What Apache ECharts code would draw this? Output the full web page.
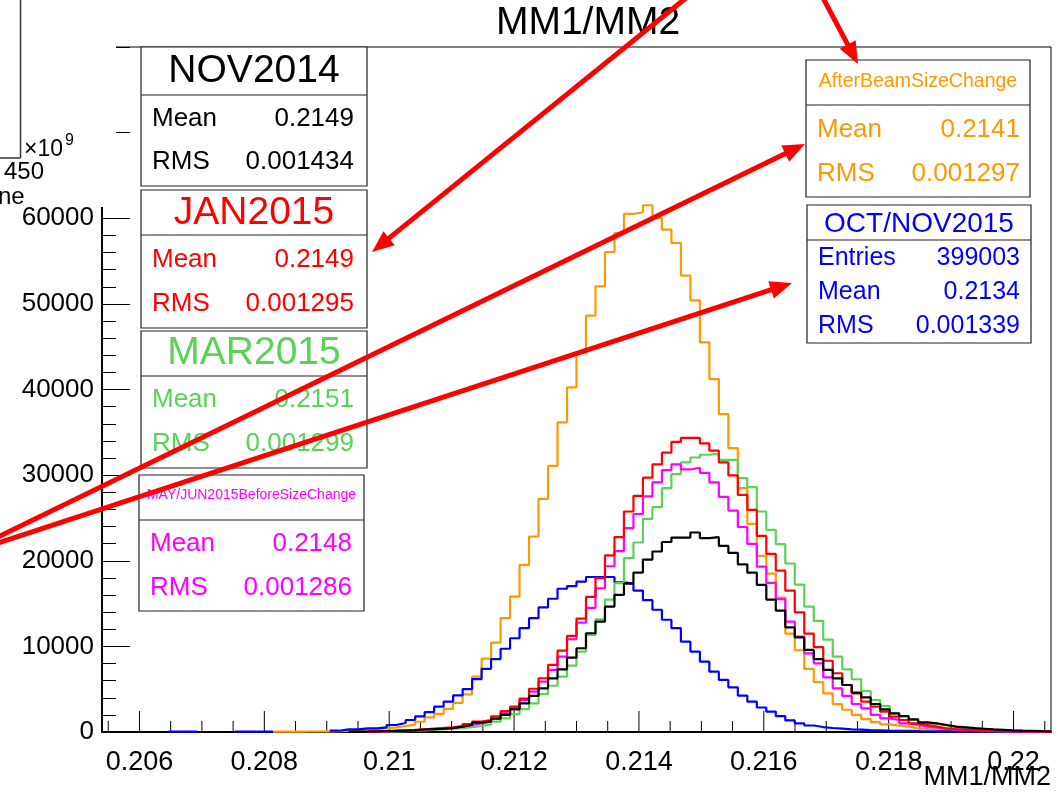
<!DOCTYPE html>
<html><head><meta charset="utf-8">
<script src="https://cdn.jsdelivr.net/npm/echarts@6/dist/echarts.min.js"></script>
<style>html,body{margin:0;padding:0;background:#fff}#c{width:1058px;height:792px}</style>
</head><body><div id="c"></div>
<script>
// ---------------- data ----------------
const BIN_LOW = 0.2054, BIN_HIGH = 0.2206, N_BINS = 100;

const xMajorTicks = [0.206, 0.208, 0.21, 0.212, 0.214, 0.216, 0.218, 0.22];
const xTickLabels = ['0.206', '0.208', '0.21', '0.212', '0.214', '0.216', '0.218', '0.22'];
const xMinorTicks = [0.2055, 0.2065, 0.207, 0.2075, 0.2085, 0.209, 0.2095, 0.2105, 0.211, 0.2115,
  0.2125, 0.213, 0.2135, 0.2145, 0.215, 0.2155, 0.2165, 0.217, 0.2175, 0.2185, 0.219, 0.2195, 0.2205];

const nov2014 = [
  null,null,null,null,null,null,null,null,null,null,
  null,null,null,null,null,null,null,null,null,null,
  null,null,null,null,null,null,50,60,80,100,
  120,150,200,300,330,380,450,620,820,1090,
  1250,1550,1990,2650,3350,4210,5100,6270,7320,8690,
  9780,11530,12900,14650,16010,17340,18620,20140,21080,22190,
  22710,22710,23300,22640,22750,21740,20920,19580,18620,17180,
  15470,14180,12220,11050,9580,8520,7250,6270,5490,4600,
  4050,3270,2650,2180,1870,1480,1130,1010,820,620,
  550,450,380,300,250,200,160,130,100,80];

const jan2015 = [
  null,null,null,null,null,null,null,null,null,null,
  null,null,null,null,null,null,null,null,null,null,
  null,null,null,null,null,null,null,null,60,100,
  150,200,250,320,400,480,550,700,935,1210,
  1400,1830,2430,2960,3900,5050,6280,7830,9510,11220,
  13250,15780,17960,20630,22770,25750,27580,29700,31250,32630,
  33880,34360,34360,33700,32860,31500,29980,27700,25950,22910,
  20800,18840,16500,13960,11490,9910,8320,6860,5490,4520,
  3540,2960,2380,1790,1400,1010,820,620,430,350,
  280,230,180,150,120,100,80,70,60,50];

const mar2015 = [
  null,null,null,null,null,null,null,null,null,null,
  null,null,null,null,null,null,null,null,null,null,
  null,null,null,null,null,null,null,null,null,50,
  80,100,150,200,250,300,380,450,560,700,
  880,1210,1600,2080,2670,3350,4420,5400,6470,7750,
  9390,11340,13150,15470,17380,20300,22130,24900,26260,28480,
  30120,31480,32060,32380,32490,31790,31790,29650,28600,25750,
  23610,21930,19680,17220,14650,12970,10790,8800,7320,6160,
  4790,3740,3040,2180,1790,1400,1010,940,780,620,
  500,400,320,250,200,160,120,100,80,60];

const mayJun2015 = [
  null,null,null,null,null,null,null,null,null,null,
  null,null,null,null,null,null,null,null,null,null,
  null,null,null,null,null,null,null,null,50,80,
  120,160,200,260,330,400,480,620,820,1000,
  1210,1600,2180,2770,3740,4710,5880,7250,8800,10830,
  12780,14500,16790,19360,21120,23800,25460,27510,29160,30580,
  31250,30660,30860,30270,29160,27470,25850,23940,21970,19320,
  17410,15510,12900,11140,9190,8020,6370,5100,4210,3270,
  2770,1990,1600,1400,1010,820,620,510,390,300,
  240,190,150,120,100,80,60,50,40,30];

const afterBeam = [
  null,null,null,null,null,null,null,null,null,null,
  null,null,null,null,null,null,null,null,40,40,
  50,60,60,80,100,150,200,310,400,430,
  530,680,860,1200,1700,2120,2700,3400,4400,6470,
  8560,10440,13290,15820,19520,22830,27230,31090,36150,40250,
  44260,48620,52050,56060,58280,60500,60700,61520,60040,58670,
  57110,53300,50410,45510,41220,37130,33150,28480,24310,20570,
  18500,15700,11500,9550,7380,5830,4500,3250,2600,2000,
  1500,1150,900,740,620,430,350,280,220,170,
  130,100,80,60,50,40,30,30,20,20];

const octNov2015 = [
  null,null,null,null,null,null,null,40,40,40,
  null,null,null,null,40,40,40,40,null,null,
  null,null,null,null,150,310,310,430,430,545,
  820,1050,1400,1830,2320,2960,3550,4270,5000,6170,
  7380,8520,9720,10950,12120,13290,14550,15560,16730,17040,
  17570,18100,18100,18100,17470,17340,16520,15390,14280,13110,
  12120,10560,9390,8220,7050,6080,5220,4250,3550,2860,
  2380,1850,1350,1010,760,580,470,390,310,280,
  230,200,160,140,120,100,90,80,70,60,
  50,40,40,40,40,40,40,40,40,null];

const statTitles = ['NOV2014', 'JAN2015', 'MAR2015', 'MAY/JUN2015BeforeSizeChange', 'AfterBeamSizeChange', 'OCT/NOV2015'];
const statLabels = [['Mean','RMS'], ['Mean','RMS'], ['Mean','RMS'], ['Mean','RMS'], ['Mean','RMS'], ['Entries','Mean','RMS']];
const statValues = [['0.2149','0.001434'], ['0.2149','0.001295'], ['0.2151','0.001299'], ['0.2148','0.001286'], ['0.2141','0.001297'], ['399003','0.2134','0.001339']];

const chartTitle = 'MM1/MM2';
const xAxisTitle = 'MM1/MM2';

// ---------------- styles / layout ----------------
const COLORS = {black:'#000000', red:'#ff0000', green:'#59d354', magenta:'#ff00ff', orange:'#ff9900', blue:'#0000ff'};
const FONT = '"Liberation Sans", Arial, Helvetica, sans-serif';

function histPoints(vals) {
  const w = (BIN_HIGH - BIN_LOW) / N_BINS;
  const pts = [];
  let started = false;
  for (let i = 0; i < vals.length; i++) {
    const v = vals[i];
    const lo = BIN_LOW + i * w, hi = BIN_LOW + (i + 1) * w;
    if (v == null) {
      if (started && pts.length && pts[pts.length - 1][1] != null) pts.push([lo, null]);
      continue;
    }
    started = true;
    pts.push([lo, v], [hi, v]);
  }
  return pts;
}

const histSeries = [
  {name: statTitles[4], vals: afterBeam, color: COLORS.orange},
  {name: statTitles[5], vals: octNov2015, color: COLORS.blue},
  {name: statTitles[2], vals: mar2015, color: COLORS.green},
  {name: statTitles[3], vals: mayJun2015, color: COLORS.magenta},
  {name: statTitles[1], vals: jan2015, color: COLORS.red},
  {name: statTitles[0], vals: nov2014, color: COLORS.black}
].map(s => ({
  type: 'line', name: s.name, data: histPoints(s.vals), symbol: 'none', showSymbol: false,
  connectNulls: false, lineStyle: {color: s.color, width: 2.2}, itemStyle: {color: s.color},
  animation: false, silent: true, z: 3
}));

const allXTicks = xMinorTicks.concat(xMajorTicks);
const tickSeries = {
  type: 'custom', coordinateSystem: 'cartesian2d', silent: true, animation: false, z: 1,
  data: allXTicks.map(v => [v, 0]),
  renderItem: function (params, api) {
    const v = api.value(0);
    const p = api.coord([v, 0]);
    const major = xMajorTicks.some(m => Math.abs(m - v) < 1e-9);
    return {type: 'line', shape: {x1: p[0], y1: p[1], x2: p[0], y2: p[1] - (major ? 21 : 11)},
      style: {stroke: '#000', lineWidth: 1}};
  }
};

// stat boxes layout
const boxLayout = [
  {x:141, y:47,  w:226, h:139, sep:95,  ty:71,  ts:39, rows:[119,162], lx:152, vx:354, fs:26, c:COLORS.black},
  {x:141, y:190, w:226, h:138, sep:235, ty:213, ts:39, rows:[260,304], lx:152, vx:354, fs:26, c:COLORS.red},
  {x:141, y:331, w:226, h:137, sep:376, ty:353, ts:39, rows:[400,444], lx:152, vx:354, fs:26, c:COLORS.green},
  {x:139, y:475, w:225, h:136, sep:520, ty:495, ts:14, rows:[544,588], lx:150, vx:352, fs:26, c:COLORS.magenta},
  {x:806, y:60,  w:224, h:137, sep:105, ty:82,  ts:19.5, rows:[130,174], lx:817, vx:1020, fs:26, c:COLORS.orange},
  {x:807, y:205, w:224, h:138, sep:240, ty:224, ts:28, rows:[258,292,326], lx:818, vx:1020, fs:25, c:COLORS.blue}
];

function txt(text, x, y, size, color, align, z, vAlign) {
  return {type:'text', z: z || 120, silent: true,
    style:{text: text, x: x, y: y, font: size + 'px ' + FONT, fill: color,
      textAlign: align || 'left', align: align || 'left',
      textVerticalAlign: vAlign || 'middle', verticalAlign: vAlign || 'middle'}};
}

const graphics = [];
// overlapping pad fragment (top-left)
graphics.push({type:'rect', z:100, silent:true, shape:{x:0, y:0, width:116, height:207}, style:{fill:'#fff', stroke:null}});
graphics.push({type:'line', z:101, silent:true, shape:{x1:20.5, y1:0, x2:20.5, y2:158}, style:{stroke:'#333', lineWidth:1.5}});
graphics.push({type:'line', z:101, silent:true, shape:{x1:0, y1:158, x2:20.5, y2:158}, style:{stroke:'#333', lineWidth:1.5}});
graphics.push(txt('\u00d710', 24, 150, 23, '#000', 'left', 101));
graphics.push(txt('9', 65, 141, 16, '#000', 'left', 101));
graphics.push(txt('450', 4, 172, 24, '#000', 'left', 101));
graphics.push(txt('ne', -2, 197, 24, '#000', 'left', 101));

// stat boxes
boxLayout.forEach((b, k) => {
  graphics.push({type:'rect', z:110, silent:true, shape:{x:b.x, y:b.y, width:b.w, height:b.h},
    style:{fill:'#fff', stroke:'#222', lineWidth:1.2}});
  graphics.push({type:'line', z:111, silent:true, shape:{x1:b.x, y1:b.sep, x2:b.x + b.w, y2:b.sep},
    style:{stroke:'#222', lineWidth:1.2}});
  graphics.push(txt(statTitles[k], b.x + b.w / 2, b.ty, b.ts, b.c, 'center', 112));
  statLabels[k].forEach((lab, r) => {
    graphics.push(txt(lab, b.lx, b.rows[r], b.fs, b.c, 'left', 112));
    graphics.push(txt(statValues[k][r], b.vx, b.rows[r], b.fs, b.c, 'right', 112));
  });
});

// red arrows
const arrows = [
  {from:[822,-4], to:[858,64]},
  {from:[686,-2], to:[372,252]},
  {from:[-2,537], to:[805,144]},
  {from:[-2,543], to:[792,283]}
];
arrows.forEach(a => {
  const dx = a.to[0] - a.from[0], dy = a.to[1] - a.from[1];
  const len = Math.sqrt(dx*dx + dy*dy), ux = dx/len, uy = dy/len;
  const L = 22, W = 9;
  const bx = a.to[0] - ux*L, by = a.to[1] - uy*L;
  graphics.push({type:'line', z:130, silent:true, shape:{x1:a.from[0], y1:a.from[1], x2:bx + ux*2, y2:by + uy*2},
    style:{stroke:'#ff0000', lineWidth:5}});
  graphics.push({type:'polygon', z:131, silent:true,
    shape:{points:[[a.to[0], a.to[1]], [bx - uy*W, by + ux*W], [bx + uy*W, by - ux*W]]},
    style:{fill:'#ff0000'}});
});

// titles
graphics.push(txt(chartTitle, 588, 23, 39, '#000', 'center', 90));
graphics.push(txt(xAxisTitle, 1051, 778, 27, '#000', 'right', 90));

const option = {
  animation: false,
  backgroundColor: '#ffffff',
  textStyle: {fontFamily: FONT},
  grid: {left: 102, right: 7, top: 47, bottom: 60, show: true, borderColor: '#000', borderWidth: 1, backgroundColor: 'transparent'},
  xAxis: {
    type: 'value', min: BIN_LOW, max: BIN_HIGH, interval: 0.0001,
    axisLine: {show: true, onZero: false, lineStyle: {color: '#000', width: 2}},
    axisTick: {show: false}, splitLine: {show: false},
    axisLabel: {
      color: '#000', fontSize: 27, fontFamily: FONT, margin: 17, showMinLabel: true, showMaxLabel: true,
      formatter: function (v) {
        for (let i = 0; i < xMajorTicks.length; i++) if (Math.abs(xMajorTicks[i] - v) < 1e-9) return xTickLabels[i];
        return '';
      }
    }
  },
  yAxis: {
    type: 'value', min: 0, max: 80000, interval: 10000,
    axisLine: {show: true, lineStyle: {color: '#000', width: 2}},
    axisTick: {show: true, inside: true, length: 28, lineStyle: {color: '#000', width: 1}},
    minorTick: {show: true, splitNumber: 5, length: 14, lineStyle: {color: '#000', width: 1}},
    splitLine: {show: false}, minorSplitLine: {show: false},
    axisLabel: {color: '#000', fontSize: 26, fontFamily: FONT, margin: 8, formatter: v => String(v)}
  },
  series: [tickSeries].concat(histSeries),
  graphic: {elements: graphics}
};

const chart = echarts.init(document.getElementById('c'), null, {renderer: 'canvas'});
chart.setOption(option);
</script>
</body></html>
